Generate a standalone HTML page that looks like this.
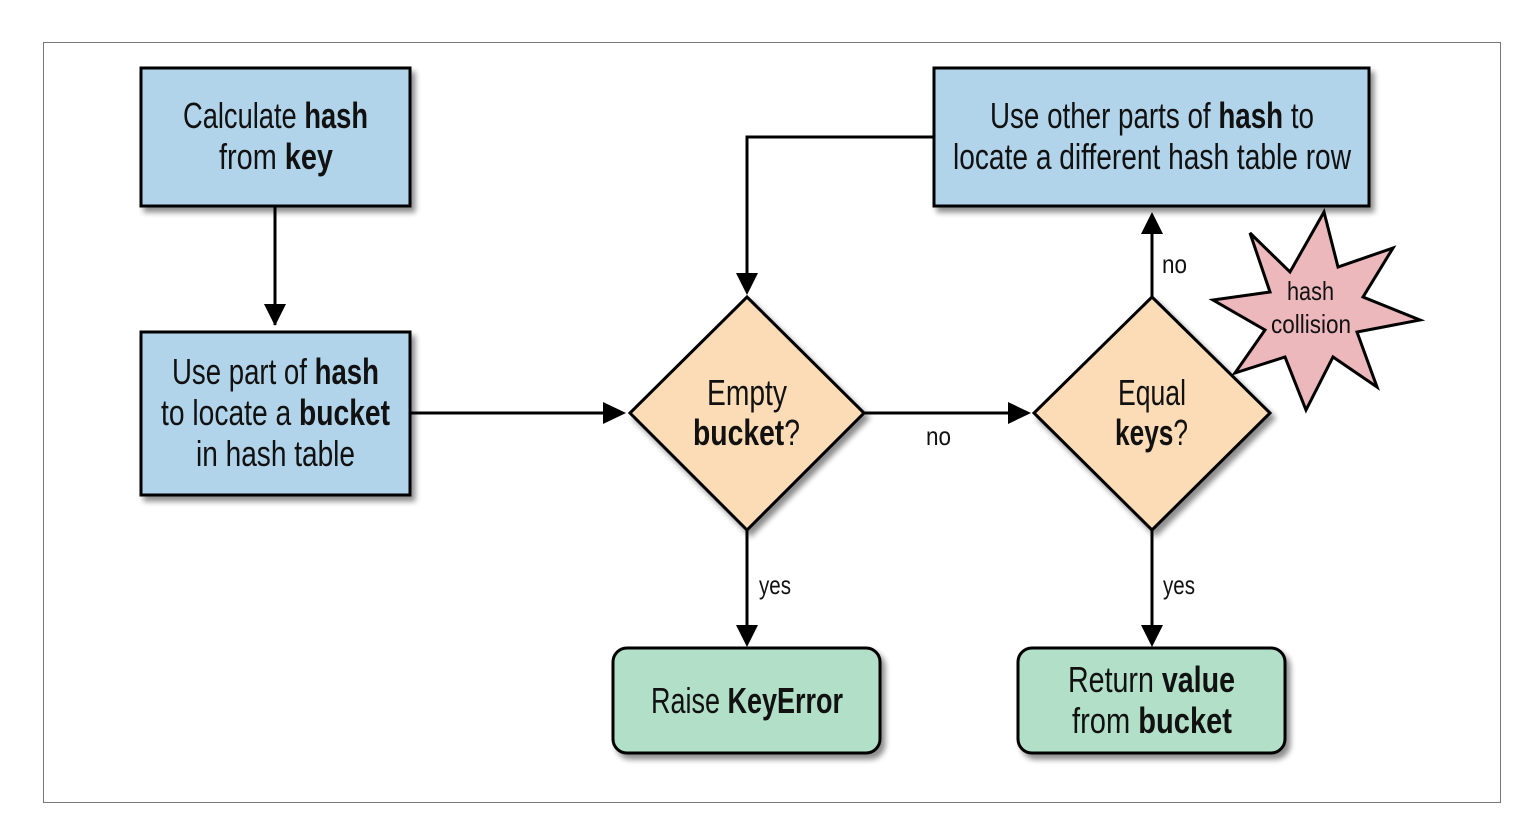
<!DOCTYPE html>
<html><head><meta charset="utf-8"><style>
html,body{margin:0;padding:0;background:#fff;}
svg{display:block;}
text{font-family:"Liberation Sans",sans-serif;fill:#111;}
.b{font-weight:bold;}
</style></head><body>
<svg width="1528" height="832" viewBox="0 0 1528 832" xmlns="http://www.w3.org/2000/svg">
<defs>
<filter id="sh" x="-10%" y="-10%" width="130%" height="130%">
<feGaussianBlur in="SourceAlpha" stdDeviation="3"/>
<feOffset dx="4" dy="5" result="o"/>
<feComponentTransfer><feFuncA type="linear" slope="0.45"/></feComponentTransfer>
<feMerge><feMergeNode/><feMergeNode in="SourceGraphic"/></feMerge>
</filter>
<marker id="ah" markerWidth="10" markerHeight="10" refX="9" refY="5" orient="auto" markerUnits="userSpaceOnUse" viewBox="0 0 10 10">
<path d="M0,0 L10,5 L0,10 z" fill="#000"/>
</marker>
</defs>
<rect x="43.5" y="42.5" width="1457" height="760" fill="#fff" stroke="#777" stroke-width="1"/>

<g stroke="#000" stroke-width="3" fill="none">
<line x1="275" y1="206" x2="275" y2="325"/>
<line x1="410" y1="413" x2="623" y2="413"/>
<line x1="864" y1="413" x2="1028" y2="413"/>
<polyline points="934,137 747,137 747,292"/>
<line x1="1152" y1="297" x2="1152" y2="218"/>
<line x1="747" y1="530" x2="747" y2="644"/>
<line x1="1152" y1="530" x2="1152" y2="644"/>
</g>
<g fill="#000">
<path d="M264,304 L286,304 L275,326 z"/>
<path d="M603,402 L603,424 L626,413 z"/>
<path d="M1008,402 L1008,424 L1031,413 z"/>
<path d="M736,273 L758,273 L747,295 z"/>
<path d="M1141,234 L1163,234 L1152,212 z"/>
<path d="M736,625 L758,625 L747,647 z"/>
<path d="M1141,625 L1163,625 L1152,647 z"/>
</g>

<g stroke="#000" stroke-width="3" filter="url(#sh)">
<rect x="141" y="68" width="269" height="138" fill="#b1d4ea"/>
<rect x="141" y="332" width="269" height="163" fill="#b1d4ea"/>
<rect x="934" y="68" width="435" height="138" fill="#b1d4ea"/>
<polygon points="747,297 864,413 747,530 630,413" fill="#fcdcb6"/>
<polygon points="1152,297 1270,413 1152,530 1034,413" fill="#fcdcb6"/>
<rect x="613" y="648" width="267" height="105" rx="14" fill="#b2dfc8"/>
<rect x="1018" y="648" width="267" height="105" rx="14" fill="#b2dfc8"/>
</g>
<polygon stroke="#000" stroke-width="3" fill="#ecb8bc" points="1324,212 1338,267 1393,248 1363,297 1420,320 1357,332 1377,387 1333,357 1306,410 1285,357 1235,373 1265,330 1213,300 1270,292 1250,233 1290,272"/>

<g font-size="36">
<text x="183" y="128" textLength="185" lengthAdjust="spacingAndGlyphs">Calculate <tspan class="b">hash</tspan></text>
<text x="219" y="169" textLength="114" lengthAdjust="spacingAndGlyphs">from <tspan class="b">key</tspan></text>
<text x="172" y="384" textLength="207" lengthAdjust="spacingAndGlyphs">Use part of <tspan class="b">hash</tspan></text>
<text x="161" y="425" textLength="229" lengthAdjust="spacingAndGlyphs">to locate a <tspan class="b">bucket</tspan></text>
<text x="196" y="466" textLength="159" lengthAdjust="spacingAndGlyphs">in hash table</text>
<text x="990" y="128" textLength="324" lengthAdjust="spacingAndGlyphs">Use other parts of <tspan class="b">hash</tspan> to</text>
<text x="953" y="169" textLength="398" lengthAdjust="spacingAndGlyphs">locate a different hash table row</text>
<text x="707" y="405" textLength="80" lengthAdjust="spacingAndGlyphs">Empty</text>
<text x="693" y="445" textLength="107" lengthAdjust="spacingAndGlyphs"><tspan class="b">bucket</tspan>?</text>
<text x="1118" y="405" textLength="68" lengthAdjust="spacingAndGlyphs">Equal</text>
<text x="1115" y="445" textLength="73" lengthAdjust="spacingAndGlyphs"><tspan class="b">keys</tspan>?</text>
<text x="651" y="713" textLength="192" lengthAdjust="spacingAndGlyphs">Raise <tspan class="b">KeyError</tspan></text>
<text x="1068" y="692" textLength="167" lengthAdjust="spacingAndGlyphs">Return <tspan class="b">value</tspan></text>
<text x="1072" y="733" textLength="160" lengthAdjust="spacingAndGlyphs">from <tspan class="b">bucket</tspan></text>
</g>
<g font-size="26">
<text x="926" y="445" textLength="25" lengthAdjust="spacingAndGlyphs">no</text>
<text x="1162" y="273" textLength="25" lengthAdjust="spacingAndGlyphs">no</text>
<text x="759" y="594" textLength="32" lengthAdjust="spacingAndGlyphs">yes</text>
<text x="1163" y="594" textLength="32" lengthAdjust="spacingAndGlyphs">yes</text>
<text x="1287" y="300" textLength="47" lengthAdjust="spacingAndGlyphs">hash</text>
<text x="1271" y="333" textLength="80" lengthAdjust="spacingAndGlyphs">collision</text>
</g>
</svg>
</body></html>
